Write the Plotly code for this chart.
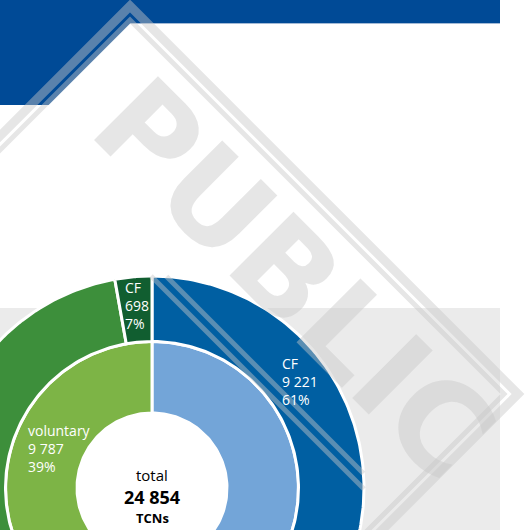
import numpy as np
import plotly.graph_objects as go

# ---------------- data ----------------
total_label = "total"
total_value = 24854
total_unit = "TCNs"

inner_names = ["forced", "voluntary"]          # clockwise from 12 o'clock
inner_values = [15067, 9787]
inner_colors = ["#73A5D8", "#7DB446"]

outer_names = ["CF", "other", "other", "CF"]    # clockwise from 12 o'clock
outer_values = [9221, 5846, 9089, 698]
outer_parent = [0, 0, 1, 1]                     # index into inner ring
outer_colors = ["#005FA2", "#3D7FC0", "#3D8F3B", "#115E30"]

# ---------------- geometry (layout, px coords) ----------------
W, H = 525, 530
CX, CY = 152, 488
R_HOLE, R_MID, R_OUT = 75, 146.5, 212


def fmt(v):
    return f"{v:,}".replace(",", " ")


def sector(a0, a1, r0, r1, n=120):
    t = np.radians(np.linspace(a0, a1, n))
    xo, yo = CX + r1 * np.sin(t), CY - r1 * np.cos(t)
    xi, yi = CX + r0 * np.sin(t[::-1]), CY - r0 * np.cos(t[::-1])
    return np.r_[xo, xi, xo[:1]], np.r_[yo, yi, yo[:1]]


fig = go.Figure()

tot = sum(inner_values)
cum = 0.0
for name, v, c in zip(inner_names, inner_values, inner_colors):
    a0, a1 = cum / tot * 360, (cum + v) / tot * 360
    x, y = sector(a0, a1, R_HOLE, R_MID)
    fig.add_trace(go.Scatter(x=x, y=y, fill="toself", fillcolor=c, mode="lines",
                             line=dict(color="white", width=3), hoverinfo="skip",
                             showlegend=False))
    cum += v

cum = 0.0
for name, v, c in zip(outer_names, outer_values, outer_colors):
    a0, a1 = cum / tot * 360, (cum + v) / tot * 360
    x, y = sector(a0, a1, R_MID, R_OUT)
    fig.add_trace(go.Scatter(x=x, y=y, fill="toself", fillcolor=c, mode="lines",
                             line=dict(color="white", width=3), hoverinfo="skip",
                             showlegend=False))
    cum += v

# ---------------- background shapes ----------------
WM = "rgba(200,200,200,0.45)"
DC = (130, 394)
shapes = [
    dict(type="rect", xref="x", yref="y", x0=0, x1=500, y0=308, y1=540,
         fillcolor="#EBEBEB", line_width=0, layer="below"),
    dict(type="circle", xref="x", yref="y", x0=CX - R_HOLE, x1=CX + R_HOLE,
         y0=CY - R_HOLE, y1=CY + R_HOLE, fillcolor="white", line_width=0, layer="below"),
    dict(type="path", xref="x", yref="y",
         path="M 0,0 L 500,0 L 500,23 L 130.5,23 L 48.5,105 L 0,105 Z",
         fillcolor="#004A96", line_width=0, layer="below"),
    dict(type="line", xref="x", yref="y", x0=130, x1=500, y0=23.5, y1=23.5,
         line=dict(color="#A3BAD6", width=1), layer="below"),
]
for D, w in [(388, 9), (374, 5)]:
    cx, cy = DC
    shapes.append(dict(type="path", xref="x", yref="y",
                       path=f"M {cx},{cy-D} L {cx+D},{cy} L {cx},{cy+D} L {cx-D},{cy} Z",
                       line=dict(color=WM, width=w), fillcolor="rgba(0,0,0,0)",
                       layer="above"))
shapes += [
    dict(type="line", xref="x", yref="y", x0=151, y0=276, x1=364, y1=489,
         line=dict(color=WM, width=5), layer="above"),
    dict(type="line", xref="x", yref="y", x0=166.5, y0=276.5, x1=363.5, y1=473.5,
         line=dict(color=WM, width=5), layer="above"),
]

# ---------------- annotations ----------------
F = "Open Sans"
anns = [
    dict(text="<b>PUBLIC</b>", x=294, y=279, xref="x", yref="y", showarrow=False,
         textangle=45, font=dict(family="DejaVu Sans", size=124, color=WM)),
]


def pct(v, base):
    return f"{round(100 * v / base)}%"


# CF voluntary (dark green)
anns.append(dict(text=f"{outer_names[3]}<br>{fmt(outer_values[3])}<br>{pct(outer_values[3], inner_values[1])}",
                 x=123, y=305, xref="x", yref="y", showarrow=False, xanchor="left",
                 align="left", font=dict(family=F, size=14, color="white")))
# CF forced (blue)
anns.append(dict(text=f"{outer_names[0]}<br>{fmt(outer_values[0])}<br>{pct(outer_values[0], inner_values[0])}",
                 x=280, y=381, xref="x", yref="y", showarrow=False, xanchor="left",
                 align="left", font=dict(family=F, size=14, color="white")))
# voluntary inner
anns.append(dict(text=f"{inner_names[1]}<br>{fmt(inner_values[1])}<br>{pct(inner_values[1], tot)}",
                 x=26, y=448, xref="x", yref="y", showarrow=False, xanchor="left",
                 align="left", font=dict(family=F, size=14, color="white")))
# centre
anns.append(dict(text=total_label, x=CX, y=475, xref="x", yref="y", showarrow=False,
                 font=dict(family=F, size=15, color="black")))
anns.append(dict(text=f"<b>{fmt(total_value)}</b>", x=CX, y=497, xref="x", yref="y",
                 showarrow=False, font=dict(family=F, size=18, color="black")))
anns.append(dict(text=f"<b>{total_unit}</b>", x=CX, y=518, xref="x", yref="y",
                 showarrow=False, font=dict(family=F, size=13, color="black")))

fig.update_layout(
    width=W, height=H, margin=dict(l=0, r=0, t=0, b=0),
    paper_bgcolor="white", plot_bgcolor="white",
    xaxis=dict(range=[0, W], visible=False, fixedrange=True),
    yaxis=dict(range=[H, 0], visible=False, fixedrange=True),
    shapes=shapes, annotations=anns, showlegend=False,
)

fig.write_html("out.html", config=dict(displayModeBar=False, staticPlot=True))
